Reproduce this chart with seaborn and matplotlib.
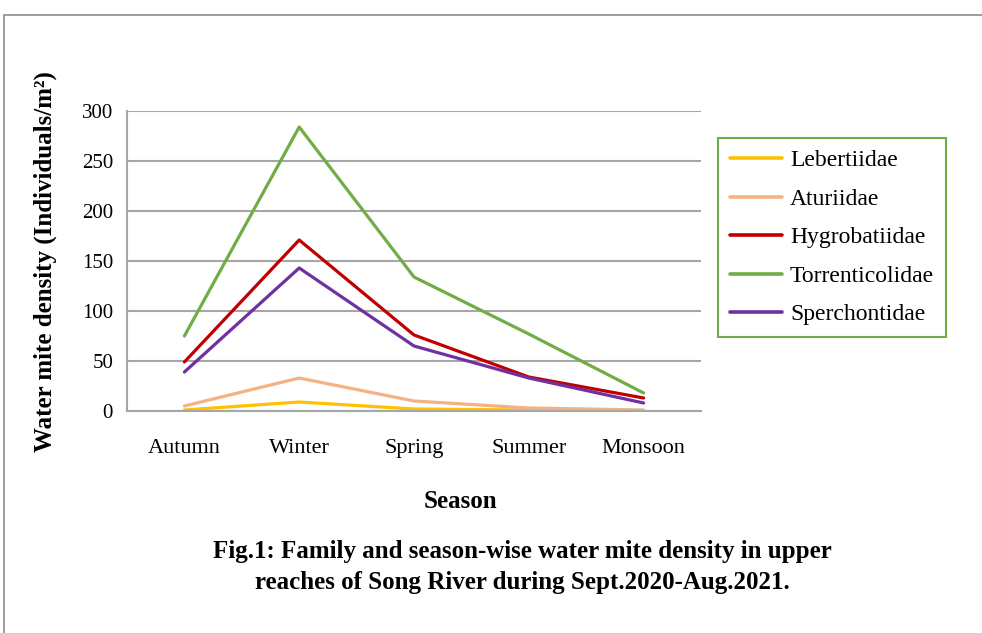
import pandas as pd
import matplotlib.pyplot as plt
import matplotlib.patches as mpatches
import seaborn as sns

sns.set_theme(style='white')
plt.rcParams['font.family'] = ['Liberation Serif', 'DejaVu Serif']
plt.rcParams['text.color'] = 'black'

# 数据
seasons = ['Autumn', 'Winter', 'Spring', 'Summer', 'Monsoon']
lebertiidae = [1, 9, 2, 1, 0.5]
aturiidae = [5, 33, 10, 3, 1]
hygrobatiidae = [49, 171, 76, 34, 13]
torrenticolidae = [75, 284, 134, 77, 18]
sperchontidae = [39, 143, 65, 33, 8]
families = ['Lebertiidae', 'Aturiidae', 'Hygrobatiidae', 'Torrenticolidae', 'Sperchontidae']
colors = ['#FFC000', '#F4B183', '#C00000', '#70AD47', '#7030A0']

values = [lebertiidae, aturiidae, hygrobatiidae, torrenticolidae, sperchontidae]
rows = []
for fam, vals in zip(families, values):
    for s, v in zip(seasons, vals):
        rows.append({'Season': s, 'Density': v, 'Family': fam})
df = pd.DataFrame(rows)

fig = plt.figure(figsize=(9.82, 6.33), dpi=100)
# 外框
fig.patches.append(mpatches.Rectangle((4 / 982, -0.1), 1.2, 1 - 15 / 633 + 0.1,
                                      transform=fig.transFigure, fill=False,
                                      edgecolor='#8c8c8c', linewidth=1.2))

ax = fig.add_axes([127 / 982, 1 - 411 / 633, 574 / 982, 300 / 633])
sns.lineplot(data=df, x='Season', y='Density', hue='Family', palette=colors,
             linewidth=2.3, ax=ax, legend=False, sort=False)

ax.set_xlim(-0.5, 4.5)
ax.set_ylim(0, 300)
ax.set_yticks(range(0, 301, 50))
ax.yaxis.grid(True, color='#a6a6a6', linewidth=1.5)
ax.set_axisbelow(True)
for side in ['top', 'right']:
    ax.spines[side].set_visible(False)
for side in ['left', 'bottom']:
    ax.spines[side].set_color('#a6a6a6')
    ax.spines[side].set_linewidth(1.5)
ax.tick_params(axis='x', length=0, labelsize=16, colors='black', pad=20)
ax.tick_params(axis='y', length=0, labelsize=15, colors='black', pad=10)
ax.set_xlabel('')
ax.set_ylabel('')

fig.text(45 / 982, 1 - 262 / 633, 'Water mite density (Individuals/m²)', rotation=90,
         ha='center', va='center', fontsize=18, fontweight='bold')
fig.text(460 / 982, 1 - 502 / 633, 'Season', ha='center', va='center',
         fontsize=18, fontweight='bold')
fig.text(522 / 982, 1 - 567 / 633,
         'Fig.1: Family and season-wise water mite density in upper\nreaches of Song River during Sept.2020-Aug.2021.',
         ha='center', va='center', fontsize=18, fontweight='bold', linespacing=1.45)

handles = [plt.Line2D([], [], color=c, linewidth=2.6) for c in colors]
leg = fig.legend(handles, families, loc='upper left',
                 bbox_to_anchor=(718 / 982, 1 - 138 / 633), bbox_transform=fig.transFigure,
                 frameon=True, fancybox=False, framealpha=1, fontsize=17,
                 handlelength=2.2, handletextpad=0.35, labelspacing=0.72,
                 borderpad=0.5, borderaxespad=0)
leg.get_frame().set_edgecolor('#70AD47')
leg.get_frame().set_linewidth(1.5)

fig.savefig('out.png', dpi=100)
